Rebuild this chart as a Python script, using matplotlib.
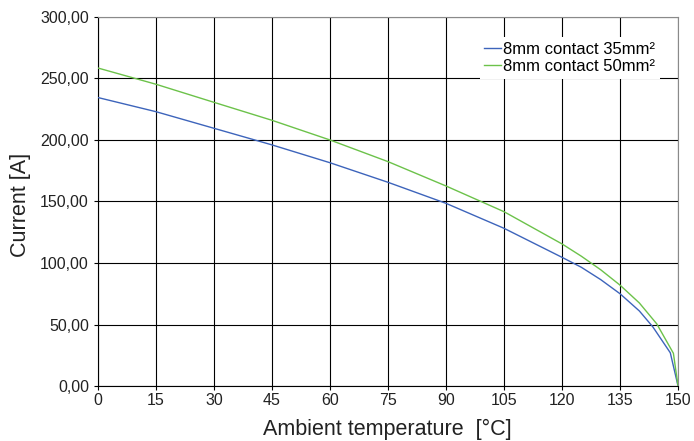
#!/usr/bin/env python3
"""Current derating vs ambient temperature"""
import matplotlib
matplotlib.use('Agg')
import matplotlib.pyplot as plt
from matplotlib.ticker import FuncFormatter

plt.rcParams['font.family'] = ['Liberation Sans', 'DejaVu Sans']

# values
temp_35 = [0, 15, 30, 45, 60, 75, 90, 105, 120, 125, 130, 135, 140, 143.5, 148, 150]
current_35 = [234.5, 223.0, 209.5, 196.0, 181.5, 165.6, 148.5, 128.2, 104.6, 96.5, 86.5,
              75.0, 61.0, 48.0, 27.0, 0.0]

temp_50 = [0, 15, 30, 45, 60, 75, 90, 105, 120, 125, 130, 135, 140, 144.5, 148.8, 150]
current_50 = [258.5, 245.3, 230.6, 216.0, 200.0, 182.4, 162.6, 141.7, 115.5, 105.5, 94.5,
              82.0, 67.5, 50.5, 26.6, 0.0]

labels = ['8mm contact 35mm²', '8mm contact 50mm²']
x_ticks = list(range(0, 151, 15))
y_ticks = [0, 50, 100, 150, 200, 250, 300]

fig = plt.figure(figsize=(6.94, 4.41), dpi=100)
ax = fig.add_axes([0.1412, 0.1247, 0.8358, 0.8368])

ax.plot(temp_35, current_35, color='#3d64bb', lw=1.0, label=labels[0], zorder=3)
ax.plot(temp_50, current_50, color='#6cc24a', lw=1.0, label=labels[1], zorder=3)

ax.set_xlim(0, 150)
ax.set_ylim(0, 300)
ax.set_xticks(x_ticks)
ax.set_yticks(y_ticks)
ax.yaxis.set_major_formatter(FuncFormatter(lambda v, p: f'{v:.2f}'.replace('.', ',')))
ax.grid(True, color='black', lw=0.8)
ax.set_axisbelow(True)

for side in ['top', 'right']:
    ax.spines[side].set_color('#8a8a8a')
for side in ['left', 'bottom']:
    ax.spines[side].set_color('black')
ax.tick_params(axis='both', direction='out', length=3, width=0.8, labelsize=11.5,
               colors='black', labelcolor='#222222')
ax.tick_params(axis='x', pad=2)
ax.tick_params(axis='y', pad=3.5)

ax.set_xlabel('Ambient temperature  [°C]', fontsize=15.5, color='#222222')
ax.set_ylabel('Current [A]', fontsize=15.5, color='#222222')
ax.xaxis.set_label_coords(0.499, -0.09)
ax.yaxis.set_label_coords(-0.115, 0.49)

leg = ax.legend(loc='upper right', bbox_to_anchor=(0.969, 0.946), fontsize=12,
                frameon=True, framealpha=1, edgecolor='white', fancybox=False,
                handlelength=1.0, handletextpad=0.15, labelspacing=0.16,
                borderpad=0.28, borderaxespad=0)
leg.get_frame().set_linewidth(0)

fig.savefig('out.png', dpi=100)
